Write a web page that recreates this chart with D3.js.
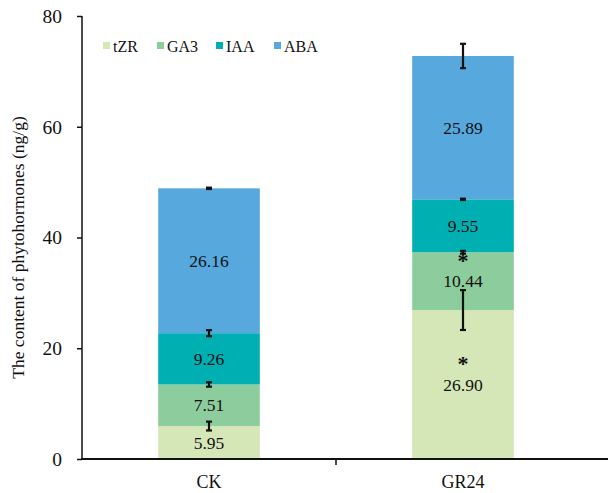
<!DOCTYPE html>
<html>
<head>
<meta charset="utf-8">
<script src="https://cdn.jsdelivr.net/npm/d3@7"></script>
<style>
  body { margin: 0; background: #fff; }
  svg { display: block; }
  svg text { font-family: "Liberation Serif", "Times New Roman", serif; }
</style>
</head>
<body>
<svg id="chart" width="608" height="493"></svg>
<script>
// Phytohormone contents (ng/g) for each treatment, stacked by hormone
const groups = ["CK", "GR24"];
const hormones = ["tZR", "GA3", "IAA", "ABA"];
const tZR = [5.95, 26.90];
const GA3 = [7.51, 10.44];
const IAA = [9.26, 9.55];
const ABA = [26.16, 25.89];
// standard errors
const tZRErr = [0.8, 3.6];
const GA3Err = [0.4, 0.25];
const IAAErr = [0.55, 0.12];
const ABAErr = [0.12, 2.2];
// significance markers (asterisk above label)
const tZRSig = [false, true];
const GA3Sig = [false, true];
const IAASig = [false, false];
const ABASig = [false, false];
const yTicks = [0, 20, 40, 60, 80];
const colors = ["#d5e6b7", "#8dcc9c", "#00afb1", "#56a8dd"];

const values = { tZR, GA3, IAA, ABA };
const errs = { tZR: tZRErr, GA3: GA3Err, IAA: IAAErr, ABA: ABAErr };
const sigs = { tZR: tZRSig, GA3: GA3Sig, IAA: IAASig, ABA: ABASig };

const table = groups.map((g, i) => {
  const row = { group: g };
  hormones.forEach(h => row[h] = values[h][i]);
  return row;
});

const FONT = "Liberation Serif, Times New Roman, serif";
const svg = d3.select("#chart");
const mLeft = 82, mTop = 16, mBottom = 459, mRight = 590;

const x = d3.scaleBand().domain(groups).range([mLeft, mRight]).paddingInner(0.6).paddingOuter(0.3);
const y = d3.scaleLinear().domain([0, 80]).range([mBottom, mTop]);
const color = d3.scaleOrdinal().domain(hormones).range(colors);

const series = d3.stack().keys(hormones)(table);

// bars
const layer = svg.append("g").selectAll("g").data(series).join("g")
  .attr("fill", d => color(d.key));
layer.selectAll("rect").data(d => d).join("rect")
  .attr("x", d => x(d.data.group))
  .attr("width", x.bandwidth())
  .attr("y", d => y(d[1]))
  .attr("height", d => y(d[0]) - y(d[1]));

// error bars at the top of each segment
const eb = svg.append("g").attr("stroke", "#111").attr("stroke-width", 2.2);
series.forEach(s => {
  s.forEach((d, i) => {
    const cx = x(d.data.group) + x.bandwidth() / 2;
    const e = errs[s.key][i];
    const y1 = y(d[1] + e), y2 = y(d[1] - e);
    eb.append("line").attr("x1", cx).attr("x2", cx).attr("y1", y1).attr("y2", y2);
    eb.append("line").attr("x1", cx - 3).attr("x2", cx + 3).attr("y1", y1).attr("y2", y1);
    eb.append("line").attr("x1", cx - 3).attr("x2", cx + 3).attr("y1", y2).attr("y2", y2);
  });
});

// value labels; significant values carry an asterisk line above
const lab = svg.append("g").attr("font-size", 17.5).attr("fill", "#111")
  .attr("text-anchor", "middle").attr("font-family", FONT);
series.forEach(s => {
  s.forEach((d, i) => {
    const cx = x(d.data.group) + x.bandwidth() / 2;
    const v = values[s.key][i];
    const cy = y((d[0] + d[1]) / 2);
    const t = lab.append("text").attr("x", cx);
    if (sigs[s.key][i]) {
      const gap = 19.5;
      t.attr("y", cy - gap + 6);
      t.append("tspan").attr("x", cx).attr("font-size", 22).attr("font-weight", "bold").text("*");
      t.append("tspan").attr("x", cx).attr("dy", gap).text(v.toFixed(2));
    } else {
      t.attr("y", cy).attr("dy", "0.35em").text(v.toFixed(2));
    }
  });
});

// y axis
const yAxis = svg.append("g").attr("transform", `translate(${mLeft},0)`)
  .call(d3.axisLeft(y).tickValues(yTicks).tickSize(5).tickPadding(15).tickFormat(d3.format("d")));
yAxis.select(".domain").attr("stroke", "#111").attr("stroke-width", 1.5).attr("d", `M0,${mTop}V${mBottom}`);
yAxis.selectAll(".tick line").attr("stroke", "#111").attr("stroke-width", 1.5);
yAxis.selectAll(".tick text").attr("font-size", 19.5).attr("fill", "#111")
  .attr("font-family", FONT);

// x axis
const xAxisG = svg.append("g").attr("transform", `translate(0,${mBottom})`);
xAxisG.append("line").attr("x1", mLeft - 1).attr("x2", 608).attr("y1", 0).attr("y2", 0)
  .attr("stroke", "#111").attr("stroke-width", 2.2);
const mid = (x("CK") + x.bandwidth() / 2 + x("GR24") + x.bandwidth() / 2) / 2;
xAxisG.append("line").attr("x1", mid).attr("x2", mid).attr("y1", 0).attr("y2", 6)
  .attr("stroke", "#111").attr("stroke-width", 1.5);
xAxisG.selectAll("text.cat").data(groups).join("text").attr("class", "cat")
  .attr("x", d => x(d) + x.bandwidth() / 2).attr("y", 29)
  .attr("text-anchor", "middle").attr("font-size", 18).attr("font-family", FONT)
  .attr("fill", "#111").text(d => d);

// y axis title
svg.append("text")
  .attr("transform", `translate(24,${(mTop + mBottom) / 2 + 10}) rotate(-90)`)
  .attr("text-anchor", "middle").attr("font-size", 17.5).attr("font-family", FONT)
  .attr("fill", "#111")
  .text("The content of phytohormones (ng/g)");

// legend
const legendX = [103, 157, 216, 274];
const lg = svg.append("g").selectAll("g").data(hormones).join("g")
  .attr("transform", (d, i) => `translate(${legendX[i]},46)`);
lg.append("rect").attr("x", 0).attr("y", -4).attr("width", 7).attr("height", 7).attr("fill", d => color(d));
lg.append("text").attr("x", 10).attr("y", 0).attr("dy", "0.35em").attr("font-size", 16)
  .attr("font-family", FONT).attr("fill", "#111").text(d => d);
</script>
</body>
</html>
